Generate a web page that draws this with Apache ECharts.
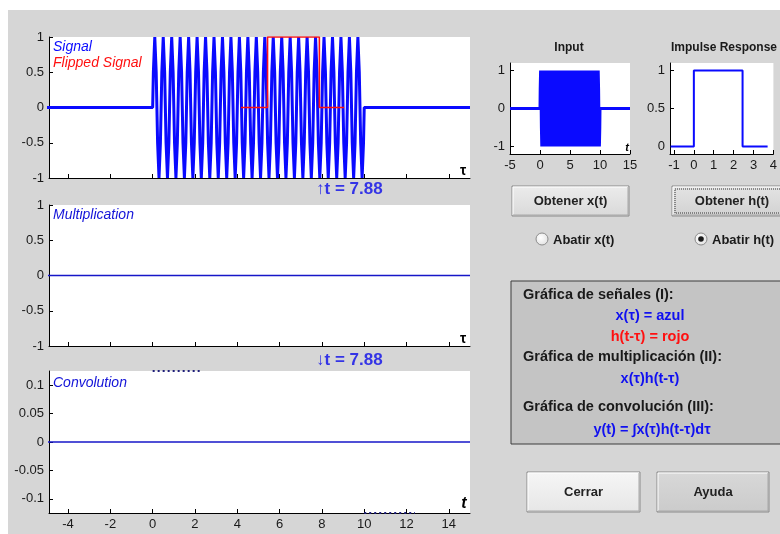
<!DOCTYPE html>
<html>
<head>
<meta charset="utf-8">
<script src="https://cdn.jsdelivr.net/npm/echarts@6/dist/echarts.min.js"></script>
<style>
html,body{margin:0;padding:0;background:#fff;}
#c{width:780px;height:534px;}
</style>
</head>
<body>
<div id="c"></div>
<script>
// ---------- data ----------
const tShift = 7.88;

// x(tau): sampled burst between tau = 0 and tau = 10 (six samples per cycle, 25 cycles),
// zero elsewhere on [-5, 15]
const signalStart = 0;
const signalEnd = 10;
const signalStep = 1 / 15;
const signalVal = [
  0.5,1,0.5,-0.5,-1,-0.5,  0.5,1,0.5,-0.5,-1,-0.5,  0.5,1,0.5,-0.5,-1,-0.5,  0.5,1,0.5,-0.5,-1,-0.5,  0.5,1,0.5,-0.5,-1,-0.5,
  0.5,1,0.5,-0.5,-1,-0.5,  0.5,1,0.5,-0.5,-1,-0.5,  0.5,1,0.5,-0.5,-1,-0.5,  0.5,1,0.5,-0.5,-1,-0.5,  0.5,1,0.5,-0.5,-1,-0.5,
  0.5,1,0.5,-0.5,-1,-0.5,  0.5,1,0.5,-0.5,-1,-0.5,  0.5,1,0.5,-0.5,-1,-0.5,  0.5,1,0.5,-0.5,-1,-0.5,  0.5,1,0.5,-0.5,-1,-0.5,
  0.5,1,0.5,-0.5,-1,-0.5,  0.5,1,0.5,-0.5,-1,-0.5,  0.5,1,0.5,-0.5,-1,-0.5,  0.5,1,0.5,-0.5,-1,-0.5,  0.5,1,0.5,-0.5,-1,-0.5,
  0.5,1,0.5,-0.5,-1,-0.5,  0.5,1,0.5,-0.5,-1,-0.5,  0.5,1,0.5,-0.5,-1,-0.5,  0.5,1,0.5,-0.5,-1,-0.5,  0.5,1,0.5,-0.5,-1,-0.5
];
const signalOuterTau = [-5, 15];

const hTau = [-1.17, 0, 0, 2.45, 2.45, 3.71];
const hVal = [0, 0, 1, 1, 0, 0];

const multTau = [-5, 15];
const multVal = [0, 0];
const convTau = [-5, 15];
const convVal = [0, 0];
const convTraceTopTau = [0, 2.3];
const convTraceBotTau = [10, 12.4];

const mainXTicks = [-4,-2,0,2,4,6,8,10,12,14];
const sigYTicks = [-1,-0.5,0,0.5,1];
const convYTicks = [-0.1,-0.05,0,0.05,0.1];
const inXTicks = [-5,0,5,10,15];
const inYTicks = [-1,0,1];
const impXTicks = [-1,0,1,2,3,4];
const impYTicks = [0,0.5,1];

// ---------- build ----------
const pairs = (xs, ys) => xs.map((x, i) => [x, ys[i]]);
const signalData = [[signalOuterTau[0], 0], [signalStart, 0]]
  .concat(signalVal.map((v, i) => [signalStart + (i + 0.5) * signalStep, v]))
  .concat([[signalEnd, 0], [signalOuterTau[1], 0]]);
const hData = pairs(hTau, hVal);
const flippedData = pairs(hTau.map(s => +(tShift - s).toFixed(3)), hVal);

const FONT = '"Liberation Sans", Arial, sans-serif';
const BLUE = '#0a0aff';
const RED = '#ff1010';
const TXT = '#1a1a1a';

function xAx(grid, min, max, ticks, showLabels) {
  return {
    gridIndex: grid, type: 'value', min: min, max: max,
    axisLine: {show: true, onZero: false, lineStyle: {color: '#000', width: 1}},
    axisTick: {show: true, inside: true, length: 4, customValues: ticks, lineStyle: {color: '#000'}},
    axisLabel: {show: showLabels, customValues: ticks, color: TXT, fontSize: 13, fontFamily: FONT, margin: 5},
    splitLine: {show: false}
  };
}
function yAx(grid, min, max, ticks) {
  return {
    gridIndex: grid, type: 'value', min: min, max: max,
    axisLine: {show: true, onZero: false, lineStyle: {color: '#000', width: 1}},
    axisTick: {show: true, inside: true, length: 4, customValues: ticks, lineStyle: {color: '#000'}},
    axisLabel: {show: true, customValues: ticks, color: TXT, fontSize: 13, fontFamily: FONT, margin: 5},
    splitLine: {show: false}
  };
}
function line(xi, yi, data, color, width, extra) {
  return Object.assign({
    type: 'line', xAxisIndex: xi, yAxisIndex: yi, data: data, showSymbol: false,
    symbol: 'none', clip: true, animation: false, silent: true,
    lineStyle: {color: color, width: width}
  }, extra || {});
}

function txt(x, y, text, opt) {
  opt = opt || {};
  return {
    type: 'text', z: 50, silent: true,
    style: {
      x: x, y: y, text: text,
      font: (opt.style || 'normal') + ' ' + (opt.weight || 'normal') + ' ' + (opt.size || 12) + 'px ' + FONT,
      fill: opt.color || TXT,
      textAlign: opt.align || 'left',
      textVerticalAlign: 'middle'
    }
  };
}
function button(x, y, w, h, label, top, bottom, focus) {
  const els = [
    {type: 'rect', z: 20, shape: {x: x, y: y, width: w, height: h},
     style: {fill: {type: 'linear', x: 0, y: 0, x2: 0, y2: 1,
       colorStops: [{offset: 0, color: top}, {offset: 1, color: bottom}]},
       stroke: '#8a8a8a', lineWidth: 1}},
    {type: 'polyline', z: 21, shape: {points: [[x + 1, y + h - 1], [x + 1, y + 1], [x + w - 1, y + 1]]},
     style: {stroke: '#ffffff', lineWidth: 1, fill: null}},
    {type: 'polyline', z: 21, shape: {points: [[x + 1, y + h - 1], [x + w - 1, y + h - 1], [x + w - 1, y + 1]]},
     style: {stroke: '#a8a8a8', lineWidth: 1, fill: null}},
    txt(x + w / 2, y + h / 2, label, {weight: 'bold', size: 13, align: 'center', color: '#222'})
  ];
  if (focus) {
    els.push({type: 'rect', z: 22, shape: {x: x + 3, y: y + 3, width: w - 6, height: h - 6},
      style: {fill: null, stroke: '#333', lineWidth: 1, lineDash: [1, 1]}});
  }
  return els;
}
function radio(cx, cy, label, selected) {
  const els = [
    {type: 'circle', z: 20, shape: {cx: cx, cy: cy, r: 6},
     style: {fill: {type: 'radial', x: 0.4, y: 0.4, r: 0.7,
       colorStops: [{offset: 0, color: '#ffffff'}, {offset: 1, color: '#dedede'}]},
       stroke: '#8c8c8c', lineWidth: 1}},
    txt(cx + 11, cy + 1, label, {weight: 'bold', size: 13})
  ];
  if (selected) {
    els.push({type: 'circle', z: 21, shape: {cx: cx, cy: cy, r: 2.8}, style: {fill: '#1a1a1a'}});
  }
  return els;
}

const graphics = [
  {type: 'rect', z: -100, shape: {x: 0, y: 0, width: 780, height: 534}, style: {fill: '#d6d6d6'}},
  {type: 'rect', z: -99, shape: {x: 0, y: 0, width: 780, height: 10}, style: {fill: '#ffffff'}},
  {type: 'rect', z: -99, shape: {x: 0, y: 0, width: 8, height: 534}, style: {fill: '#ffffff'}},
  // plot annotations
  txt(53, 47, 'Signal', {style: 'italic', size: 14, color: BLUE}),
  txt(53, 63, 'Flipped Signal', {style: 'italic', size: 14, color: RED}),
  txt(53, 215, 'Multiplication', {style: 'italic', size: 14, color: '#1414d8'}),
  txt(53, 383, 'Convolution', {style: 'italic', size: 14, color: '#1414d8'}),
  txt(463, 171, 'τ', {weight: 'bold', size: 14, color: '#000', align: 'center'}),
  txt(463, 339, 'τ', {weight: 'bold', size: 14, color: '#000', align: 'center'}),
  txt(464, 504, 't', {style: 'italic', weight: 'bold', size: 16, color: '#000', align: 'center'}),
  txt(627, 148, 't', {style: 'italic', weight: 'bold', size: 11, color: '#000', align: 'center'}),
  txt(316, 189, '↑t = 7.88', {weight: 'bold', size: 17, color: '#3434e6'}),
  txt(316, 360, '↓t = 7.88', {weight: 'bold', size: 17, color: '#3434e6'}),
  txt(569, 48, 'Input', {weight: 'bold', size: 12, align: 'center'}),
  txt(671, 48, 'Impulse Response', {weight: 'bold', size: 12}),
  // info box
  {type: 'rect', z: 10, shape: {x: 511, y: 281, width: 290, height: 163},
   style: {fill: '#c4c4c4', stroke: '#3c3c3c', lineWidth: 1}},
  txt(523, 295, 'Gráfica de señales (I):', {weight: 'bold', size: 14.5}),
  txt(650, 316, 'x(τ) = azul', {weight: 'bold', size: 14.5, align: 'center', color: '#1010f0'}),
  txt(650, 337, 'h(t-τ) = rojo', {weight: 'bold', size: 14.5, align: 'center', color: '#ff1010'}),
  txt(523, 357, 'Gráfica de multiplicación (II):', {weight: 'bold', size: 14.5}),
  txt(650, 379, 'x(τ)h(t-τ)', {weight: 'bold', size: 14.5, align: 'center', color: '#1010f0'}),
  txt(523, 407, 'Gráfica de convolución (III):', {weight: 'bold', size: 14.5}),
  txt(652, 430, 'y(t) = ∫x(τ)h(t-τ)dτ', {weight: 'bold', size: 14.5, align: 'center', color: '#1010f0'})
]
.concat(button(512, 186, 117, 30, 'Obtener x(t)', '#ececec', '#d9d9d9', false))
.concat(button(672, 186, 120, 30, 'Obtener h(t)', '#e4e4e4', '#d2d2d2', true))
.concat(radio(542, 239, 'Abatir x(t)', false))
.concat(radio(701, 239, 'Abatir h(t)', true))
.concat(button(527, 472, 113, 40, 'Cerrar', '#f6f6f6', '#e6e6e6', false))
.concat(button(657, 472, 112, 40, 'Ayuda', '#d8d8d8', '#cbcbcb', false));

const option = {
  animation: false,
  backgroundColor: 'transparent',
  grid: [
    {left: 49, top: 37, width: 421, height: 141, show: true, backgroundColor: '#fff', borderWidth: 0},
    {left: 49, top: 205, width: 421, height: 141, show: true, backgroundColor: '#fff', borderWidth: 0},
    {left: 49, top: 371, width: 421, height: 142, show: true, backgroundColor: '#fff', borderWidth: 0},
    {left: 510, top: 63, width: 120, height: 91, show: true, backgroundColor: '#fff', borderWidth: 0},
    {left: 670, top: 63, width: 125, height: 91, show: true, backgroundColor: '#fff', borderWidth: 0}
  ],
  xAxis: [
    xAx(0, -4.9, 15, mainXTicks, false),
    xAx(1, -4.9, 15, mainXTicks, false),
    xAx(2, -4.9, 15, mainXTicks, true),
    xAx(3, -5, 15, inXTicks, true),
    xAx(4, -1.2, 4, impXTicks, true)
  ],
  yAxis: [
    yAx(0, -1, 1, sigYTicks),
    yAx(1, -1, 1, sigYTicks),
    yAx(2, -0.125, 0.125, convYTicks),
    yAx(3, -1.2, 1.2, inYTicks),
    yAx(4, -0.1, 1.1, impYTicks)
  ],
  series: [
    line(0, 0, signalData, BLUE, 3),
    line(0, 0, flippedData, RED, 1.6),
    line(1, 1, pairs(multTau, multVal), '#1616c8', 1.5),
    line(2, 2, pairs(convTau, convVal), '#1616c8', 1.5),
    line(2, 2, convTraceTopTau.map(x => [x, 0.125]), '#20207a', 2, {clip: false, lineStyle: {color: '#20207a', width: 2, type: [2, 3]}}),
    line(2, 2, convTraceBotTau.map(x => [x, -0.125]), '#20207a', 2, {clip: false, lineStyle: {color: '#20207a', width: 2, type: [2, 3]}}),
    line(3, 3, signalData, BLUE, 3),
    line(4, 4, hData, BLUE, 2)
  ],
  graphic: graphics
};

const chart = echarts.init(document.getElementById('c'), null, {renderer: 'canvas'});
chart.setOption(option);
</script>
</body>
</html>
